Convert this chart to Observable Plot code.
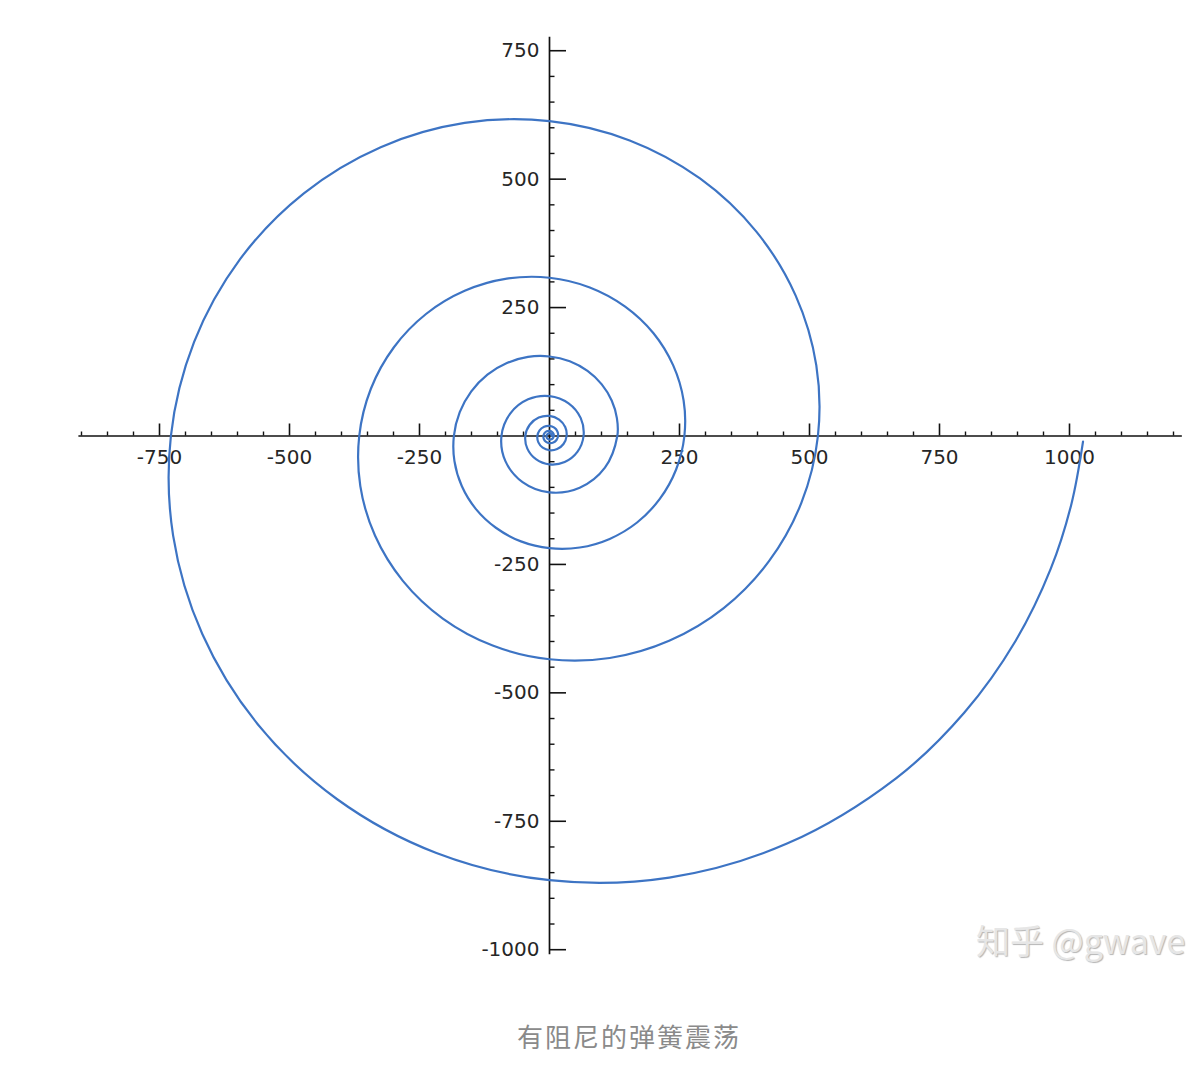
<!DOCTYPE html>
<html><head><meta charset="utf-8">
<script src="https://cdn.jsdelivr.net/npm/d3@7"></script>
<script src="https://cdn.jsdelivr.net/npm/@observablehq/plot@0.6"></script>
<style>
html,body{margin:0;padding:0;background:#fff}
body{width:1190px;height:1076px;overflow:hidden;position:relative;font-family:"DejaVu Sans",sans-serif}
#chart{position:absolute;left:0;top:0}
#caption{position:absolute;top:1019px;left:629px;transform:translateX(-50%);font-family:"Noto Sans CJK SC";font-size:26px;line-height:34px;color:#8a8a8a;letter-spacing:2px;white-space:nowrap}
#wm{position:absolute;left:976px;top:918px;font-family:"Noto Sans CJK SC";font-size:34px;line-height:44px;color:#e6e6e6;text-shadow:1px 1px 1px #b5b5b5;white-space:nowrap}
</style></head><body>
<div id="chart"></div>
<div id="wm">知乎 @gwave</div>
<div id="caption">有阻尼的弹簧震荡</div>
<script>
// spiral (position x, velocity y), from the outer end inwards
const positionX = [
 1026, 1003.7, 964.0, 896.2, 797.9, 666.4, 457.9, 230.3, 0, -217.5, -408.3, -561.1, -667.7, -723.8,
 -728.1, -683.4, -595.4, -472.4, -324.6, -163.3, 0, 154.2, 289.4, 397.8, 473.4, 513.1,
 516.2, 484.5, 422.1, 335.0, 230.1, 115.8, 0, -109.3, -205.2, -282.0, -335.6, -363.8,
 -365.9, -343.5, -299.2, -237.5, -163.1, -82.1, 0, 77.5, 145.5, 200.0, 237.9, 257.9,
 259.4, 243.5, 212.1, 168.4, 115.7, 58.2, 0, -54.9, -103.1, -141.8, -168.7, -182.8,
 -183.9, -172.6, -150.4, -119.4, -82.0, -41.3, 0, 39.0, 73.1, 100.5, 119.6, 129.6,
 130.4, 106.6, 58.1, 0, -51.8, -84.8, -92.4, -75.6, -41.2, 0, 36.7, 60.1,
 65.5, 53.6, 29.2, 0, -26.1, -42.6, -46.5, -38.0, -20.7, 0, 18.5, 30.2,
 32.9, 26.9, 14.7, 0, -13.1, -21.4, -23.4, -19.1, -10.4, 0, 9.3, 15.2,
 16.6, 13.5, 7.4, 0, -6.6, -10.8, -11.7, -9.6, -5.2, 0, 4.7, 7.6,
 8.3, 6.8, 3.7, 0, -3.3, -5.4, -5.9, -4.8, -2.6, 0, 2.3, 3.8, 4.2
];
const velocityY = [
 -11, -132.2, -258.3, -399.0, -538.2, -666.4, -793.0, -859.6, -864.7, -811.7, -707.1, -561.1, -385.5, -193.9,
 0, 183.1, 343.8, 472.4, 562.2, 609.4, 613.0, 575.4, 501.3, 397.8, 273.3, 137.5,
 0, -129.8, -243.7, -335.0, -398.6, -432.1, -434.6, -407.9, -355.4, -282.0, -193.8, -97.5,
 0, 92.0, 172.8, 237.5, 282.6, 306.3, 308.1, 289.2, 251.9, 200.0, 137.4, 69.1,
 0, -65.2, -122.5, -168.4, -200.3, -217.1, -218.4, -205.1, -178.6, -141.8, -97.4, -49.0,
 0, 46.3, 86.8, 119.4, 142.0, 154.0, 154.8, 145.4, 126.6, 100.5, 69.0, 34.7,
 0, -61.6, -100.7, -109.8, -89.8, -48.9, 0, 43.6, 71.4, 77.8, 63.6, 34.7,
 0, -30.9, -50.6, -55.2, -45.1, -24.6, 0, 21.9, 35.9, 39.1, 32.0, 17.4,
 0, -15.6, -25.4, -27.7, -22.7, -12.4, 0, 11.0, 18.0, 19.7, 16.1, 8.8,
 0, -7.8, -12.8, -13.9, -11.4, -6.2, 0, 5.5, 9.1, 9.9, 8.1, 4.4,
 0, -3.9, -6.4, -7.0, -5.7, -3.1, 0, 2.8, 4.6, 5.0, 4.1, 2.2, 0
];
const xTickLabels = [-750,-500,-250,250,500,750,1000];
const xMinorTicks = [-900,-850,-800,-700,-650,-600,-550,-450,-400,-350,-300,-200,-150,-100,-50,
  50,100,150,200,300,350,400,450,550,600,650,700,800,850,900,950,1050,1100,1150,1200];
const yTickLabels = [750,500,250,-250,-500,-750,-1000];
const yMinorTicks = [700,650,600,550,450,400,350,300,200,150,100,50,-50,-100,-150,-200,
  -300,-350,-400,-450,-550,-600,-650,-700,-800,-850,-900,-950];
const xAxisExtent = [-905, 1217];
const yAxisExtent = [-1010, 776];

const spiral = positionX.map((x, i) => ({x, y: velocityY[i]}));

const W = 1190, H = 1000;
const xRange = [29, 1069];
const yRange = [949.2, -78.2];
const kx = (xRange[1] - xRange[0]) / 2000;
const ky = (yRange[0] - yRange[1]) / 2000;
const axisColor = "#111";
const labelColor = "#262626";

const chart = Plot.plot({
  width: W, height: H,
  marginTop: 0, marginRight: 0, marginBottom: 0, marginLeft: 0,
  x: {domain: [-1000, 1000], range: xRange, axis: null},
  y: {domain: [-1000, 1000], range: yRange, axis: null},
  style: {fontFamily: "DejaVu Sans", background: "white", overflow: "visible"},
  marks: [
    Plot.ruleY([0], {x1: xAxisExtent[0], x2: xAxisExtent[1], stroke: axisColor, strokeWidth: 1.7}),
    Plot.ruleX([0], {y1: yAxisExtent[0], y2: yAxisExtent[1], stroke: axisColor, strokeWidth: 1.7}),
    Plot.ruleX(xTickLabels, {x: d => d, y1: 0, y2: 12 / ky, stroke: axisColor, strokeWidth: 1.6}),
    Plot.ruleX(xMinorTicks, {x: d => d, y1: 0, y2: 4 / ky, stroke: axisColor, strokeWidth: 1.4}),
    Plot.ruleY(yTickLabels, {y: d => d, x1: 0, x2: 17 / kx, stroke: axisColor, strokeWidth: 1.6}),
    Plot.ruleY(yMinorTicks, {y: d => d, x1: 0, x2: 5.5 / kx, stroke: axisColor, strokeWidth: 1.4}),
    Plot.text(xTickLabels, {x: d => d, y: 0, dy: 22, text: d => String(d), fontSize: 20, fill: labelColor}),
    Plot.text(yTickLabels, {x: 0, y: d => d, dx: -10, textAnchor: "end", text: d => String(d), fontSize: 20, fill: labelColor}),
    Plot.line(spiral, {x: "x", y: "y", curve: "catmull-rom", stroke: "#3d74c4", strokeWidth: 2.2})
  ]
});
document.getElementById("chart").appendChild(chart);
</script></body></html>
